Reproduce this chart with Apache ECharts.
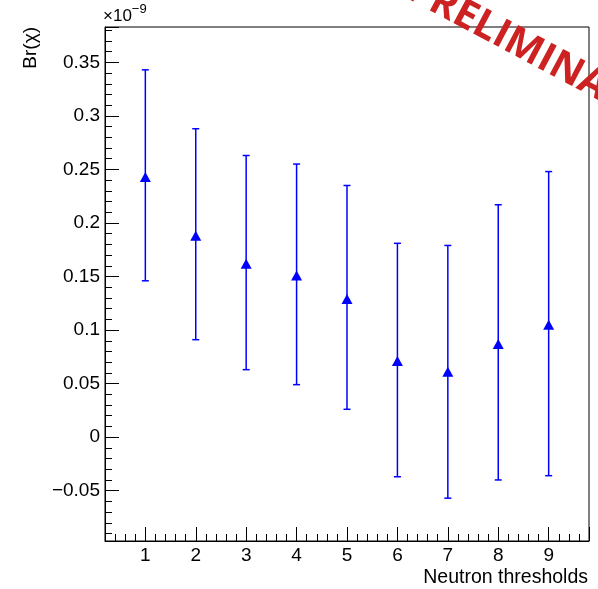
<!DOCTYPE html>
<html>
<head>
<meta charset="utf-8">
<script src="https://cdn.jsdelivr.net/npm/echarts@6/dist/echarts.min.js"></script>
<style>
  html, body { margin: 0; padding: 0; background: #fff; }
  #main { width: 598px; height: 589px; }
</style>
</head>
<body>
<div id="main"></div>
<script>
// neutron threshold index
var thresholds = [1, 2, 3, 4, 5, 6, 7, 8, 9];
// Br(chi) in units of 1e-9
var brValue = [0.243, 0.188, 0.162, 0.151, 0.129, 0.071, 0.061, 0.087, 0.105];
var brHigh = [0.343, 0.288, 0.263, 0.255, 0.235, 0.181, 0.179, 0.217, 0.248];
var brLow = [0.146, 0.091, 0.063, 0.049, 0.026, -0.037, -0.057, -0.040, -0.036];

var FONT = "'Liberation Sans', Arial, Helvetica, sans-serif";
var BLUE = '#0000ff';

var chart = echarts.init(document.getElementById('main'), null, { renderer: 'canvas' });

var pts = thresholds.map(function (x, i) { return [x, brValue[i]]; });
var bars = thresholds.map(function (x, i) { return [x, brLow[i], brHigh[i]]; });

var option = {
  backgroundColor: '#fff',
  animation: false,
  grid: {
    left: 105, right: 9, top: 27, bottom: 48,
    show: true, borderColor: '#000', borderWidth: 1
  },
  xAxis: {
    type: 'value',
    min: 0.2, max: 9.8,
    splitNumber: 10,
    axisLine: { onZero: false, lineStyle: { color: '#000', width: 1 } },
    axisTick: { inside: true, length: 14, lineStyle: { color: '#000' } },
    minorTick: { show: true, splitNumber: 5, length: 7, lineStyle: { color: '#000' } },
    splitLine: { show: false },
    axisLabel: {
      color: '#000', fontSize: 19, fontFamily: FONT, margin: 5,
      showMinLabel: false, showMaxLabel: false
    }
  },
  yAxis: {
    type: 'value',
    min: -0.097, max: 0.383,
    splitNumber: 10,
    axisLine: { show: true, onZero: false, lineStyle: { color: '#000', width: 1 } },
    axisTick: { inside: true, length: 14, lineStyle: { color: '#000' } },
    minorTick: { show: true, splitNumber: 5, length: 7, lineStyle: { color: '#000' } },
    splitLine: { show: false },
    axisLabel: {
      color: '#000', fontSize: 19, fontFamily: FONT, margin: 5,
      showMinLabel: false, showMaxLabel: false,
      formatter: function (v) { return String(v).replace('-', '\u2212'); }
    }
  },
  graphic: [
    {
      // y title
      type: 'text', x: 31, y: 27, rotation: Math.PI / 2,
      style: {
        text: 'Br(\u03c7)', fill: '#000', fontSize: 19, fontFamily: FONT,
        align: 'right', verticalAlign: 'middle'
      }
    },
    {
      // x title
      type: 'text', x: 588, y: 578,
      style: {
        text: 'Neutron thresholds', fill: '#000', fontSize: 19.5, fontFamily: FONT,
        align: 'right', verticalAlign: 'middle'
      }
    },
    {
      // exponent
      type: 'text', x: 103, y: 25,
      style: {
        text: '{a|\u00d710}{b|\u22129}',
        fill: '#000', fontFamily: FONT, align: 'left', verticalAlign: 'bottom',
        rich: {
          a: { fontSize: 17, fontFamily: FONT, fill: '#000', verticalAlign: 'bottom' },
          b: { fontSize: 13, fontFamily: FONT, fill: '#000', verticalAlign: 'top', padding: [0, 0, 9, 0] }
        }
      }
    },
    {
      type: 'text', x: 410, y: -13, rotation: -28 * Math.PI / 180, z: 100,
      style: {
        text: 'PRELIMINARY', fill: '#cc2222', fontSize: 40, fontWeight: 'bold',
        fontFamily: "'Open Sans', sans-serif", align: 'left', verticalAlign: 'middle'
      }
    }
  ],
  series: [
    {
      type: 'custom',
      data: bars,
      renderItem: function (params, api) {
        var x = api.value(0);
        var lo = api.coord([x, api.value(1)]);
        var hi = api.coord([x, api.value(2)]);
        var cap = 3.5;
        var st = { stroke: BLUE, lineWidth: 1.5 };
        return {
          type: 'group',
          children: [
            { type: 'line', shape: { x1: lo[0], y1: lo[1], x2: hi[0], y2: hi[1] }, style: st },
            { type: 'line', shape: { x1: lo[0] - cap, y1: lo[1], x2: lo[0] + cap, y2: lo[1] }, style: st },
            { type: 'line', shape: { x1: hi[0] - cap, y1: hi[1], x2: hi[0] + cap, y2: hi[1] }, style: st }
          ]
        };
      },
      z: 2
    },
    {
      type: 'scatter',
      data: pts,
      symbol: 'triangle',
      symbolSize: [11, 10],
      itemStyle: { color: BLUE, opacity: 1 },
      z: 3
    }
  ]
};

chart.setOption(option);
</script>
</body>
</html>
